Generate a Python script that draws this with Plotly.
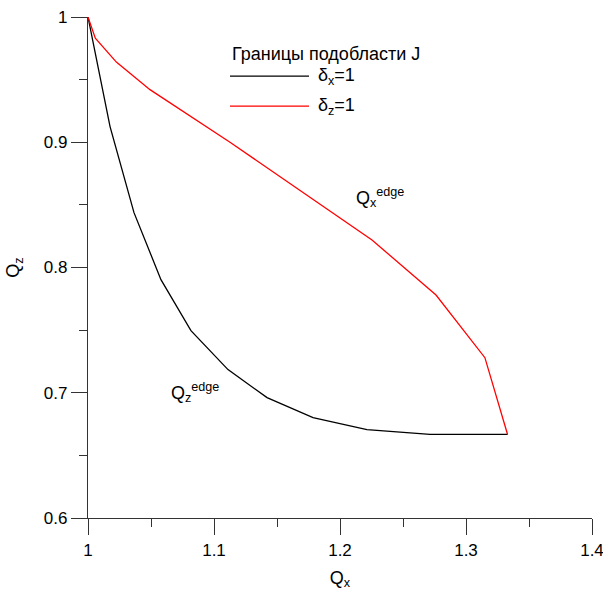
import plotly.graph_objects as go

# Data
qz_edge_x = [1.000, 1.0175, 1.0365, 1.0579, 1.0817, 1.1111, 1.1421, 1.1786, 1.2214, 1.2714, 1.3330]
qz_edge_y = [1.000, 0.9125, 0.8438, 0.7903, 0.7496, 0.7185, 0.6961, 0.6801, 0.6705, 0.6668, 0.6667]

qx_edge_x = [1.000, 1.0058, 1.0225, 1.0492, 1.1127, 1.1680, 1.2254, 1.2762, 1.3150, 1.3330]
qx_edge_y = [1.000, 0.9830, 0.9640, 0.9420, 0.9000, 0.8620, 0.8220, 0.7780, 0.7280, 0.6667]

x_ticks = [1.0, 1.1, 1.2, 1.3, 1.4]
x_tick_labels = ["1", "1.1", "1.2", "1.3", "1.4"]
y_ticks = [0.6, 0.7, 0.8, 0.9, 1.0]
y_tick_labels = ["0.6", "0.7", "0.8", "0.9", "1"]

legend_title = "Границы подобласти J"
series_names = ["δ<sub>x</sub>=1", "δ<sub>z</sub>=1"]
series_colors = ["#000000", "#ff0000"]

FONT = "Liberation Sans, Arial, sans-serif"
FS = 18
TFS = 17

fig = go.Figure()
fig.add_trace(go.Scatter(x=qz_edge_x, y=qz_edge_y, mode="lines",
                         line=dict(color=series_colors[0], width=1.3),
                         name=series_names[0], showlegend=False))
fig.add_trace(go.Scatter(x=qx_edge_x, y=qx_edge_y, mode="lines",
                         line=dict(color=series_colors[1], width=1.3),
                         name=series_names[1], showlegend=False))

axis_common = dict(showgrid=False, zeroline=False, showline=True,
                   linecolor="#333333", linewidth=1.3,
                   ticks="outside", ticklen=16, tickwidth=1.3, tickcolor="#333333",
                   tickfont=dict(family=FONT, size=TFS, color="#000"),
                   ticklabeloverflow="allow",
                   automargin=False)

fig.update_xaxes(range=[1.0, 1.4], tickvals=x_ticks, ticktext=x_tick_labels,
                 minor=dict(ticks="outside", ticklen=8, tick0=1.0, dtick=0.05,
                            tickcolor="#333333", tickwidth=1.3),
                 title=dict(text="Q<sub>x</sub>", font=dict(family=FONT, size=FS, color="#000"),
                            standoff=12),
                 **axis_common)
fig.update_yaxes(range=[0.6, 1.0], tickvals=y_ticks, ticktext=y_tick_labels,
                 minor=dict(ticks="outside", ticklen=8, tick0=0.6, dtick=0.05,
                            tickcolor="#333333", tickwidth=1.3),
                 title=dict(text="Q<sub>z</sub>", font=dict(family=FONT, size=FS, color="#000"),
                            standoff=19),
                 **axis_common)

annotations = [
    dict(text="Q<sub>x</sub><sup>edge</sup>", x=0.528, y=0.640, xref="paper", yref="paper",
         xanchor="left", yanchor="middle", showarrow=False,
         font=dict(family=FONT, size=FS, color="#000")),
    dict(text="Q<sub>z</sub><sup>edge</sup>", x=0.160, y=0.250, xref="paper", yref="paper",
         xanchor="left", yanchor="middle", showarrow=False,
         font=dict(family=FONT, size=FS, color="#000")),
    dict(text=legend_title, x=0.2817, y=0.926, xref="paper", yref="paper",
         xanchor="left", yanchor="middle", showarrow=False,
         font=dict(family=FONT, size=FS, color="#000")),
]
legend_y = [0.882, 0.822]
shapes = []
for name, color, ly in zip(series_names, series_colors, legend_y):
    shapes.append(dict(type="line", xref="paper", yref="paper",
                       x0=0.2817, x1=0.4385, y0=ly, y1=ly,
                       line=dict(color=color, width=1.3)))
    annotations.append(dict(text=name, x=0.4530, y=ly, xref="paper", yref="paper",
                            xanchor="left", yanchor="middle", showarrow=False,
                            font=dict(family=FONT, size=FS, color="#000")))

fig.update_layout(width=603, height=591,
                  margin=dict(l=88, r=11, t=17, b=73),
                  paper_bgcolor="white", plot_bgcolor="white",
                  showlegend=False,
                  annotations=annotations, shapes=shapes)

# remove the default page margin so the figure fills the window exactly
fig.write_html("out.html",
               config={"displayModeBar": False},
               post_script="document.body.style.margin='0';document.body.style.overflow='hidden';")
